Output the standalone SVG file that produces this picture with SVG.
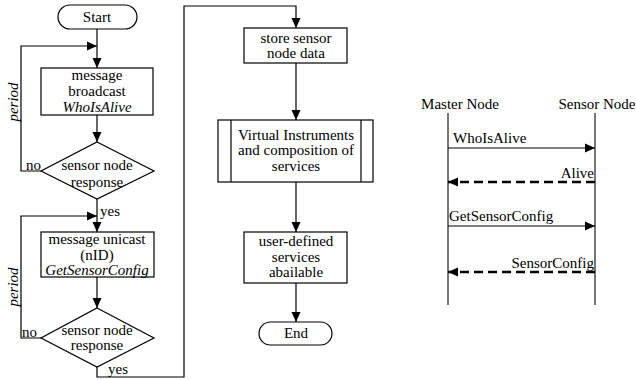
<svg xmlns="http://www.w3.org/2000/svg" width="636" height="380" viewBox="0 0 636 380">
<style>
text{font-family:'Liberation Serif','Times New Roman',serif;font-size:15px;fill:#000}
.c{text-anchor:middle}
.i{font-style:italic}
.s{fill:#fff;stroke:#000;stroke-width:1.2}
.l{fill:none;stroke:#000;stroke-width:1.2}
.ll{fill:none;stroke:#777;stroke-width:2}
.d{fill:none;stroke:#000;stroke-width:2.5;stroke-dasharray:9 5}
</style>
<defs>
<marker id="a" markerUnits="userSpaceOnUse" markerWidth="10" markerHeight="10" refX="10" refY="5" orient="auto"><path d="M0,0.5 L10,5 L0,9.5 z" fill="#000"/></marker>
</defs>
<g id="connectors">
<path class="l" d="M97,29 V68" marker-end="url(#a)"/>
<path class="l" d="M41,171 H21 V46 H97" marker-end="url(#a)"/>
<path class="l" d="M97,115 V142" marker-end="url(#a)"/>
<path class="l" d="M97,199 V232" marker-end="url(#a)"/>
<path class="l" d="M41,338 H21 V216 H97" marker-end="url(#a)"/>
<path class="l" d="M97,277 V308" marker-end="url(#a)"/>
<path class="l" d="M97,367 V377 H184 V6 H296 V28" marker-end="url(#a)"/>
<path class="l" d="M296,63 V120" marker-end="url(#a)"/>
<path class="l" d="M296,182 V232" marker-end="url(#a)"/>
<path class="l" d="M296,283 V322" marker-end="url(#a)"/>
<text x="26" y="170">no</text>
<text x="100" y="216">yes</text>
<text x="22" y="337">no</text>
<text x="108" y="374">yes</text>
<text class="c i" transform="translate(18,102) rotate(-90)">period</text>
<text class="c i" transform="translate(18,287) rotate(-90)">period</text>
</g>
<g id="start"><rect class="s" x="58" y="5" width="79" height="24" rx="12"/><text class="c" x="97" y="22">Start</text></g>
<g id="broadcast"><rect class="s" x="41" y="68" width="112" height="47"/><text class="c" x="97" y="80">message</text><text class="c" x="97" y="96">broadcast</text><text class="c i" x="97" y="112">WhoIsAlive</text></g>
<g id="decision1"><path class="s" d="M97,142 L154,171 L97,199 L41,171 z"/><text class="c" x="97" y="170">sensor node</text><text class="c" x="97" y="187">response</text></g>
<g id="unicast"><rect class="s" x="41" y="232" width="113" height="45"/><text class="c" x="97" y="244">message unicast</text><text class="c" x="97" y="260">(nID)</text><text class="c i" x="97" y="275">GetSensorConfig</text></g>
<g id="decision2"><path class="s" d="M97,308 L154,338 L97,367 L41,338 z"/><text class="c" x="97" y="335">sensor node</text><text class="c" x="97" y="350">response</text></g>
<g id="store"><rect class="s" x="244" y="28" width="103" height="35"/><text class="c" x="296" y="43">store sensor</text><text class="c" x="296" y="58">node data</text></g>
<g id="virtual"><rect class="s" x="218" y="120" width="155" height="62"/><path class="l" d="M231,120 V182 M361,120 V182"/><text class="c" x="296" y="140">Virtual Instruments</text><text class="c" x="296" y="155">and composition of</text><text class="c" x="296" y="171">services</text></g>
<g id="userdef"><rect class="s" x="244" y="232" width="103" height="51"/><text class="c" x="296" y="246">user-defined</text><text class="c" x="296" y="262">services</text><text class="c" x="296" y="277">abailable</text></g>
<g id="end"><rect class="s" x="259" y="322" width="73" height="23" rx="11.5"/><text class="c" x="296" y="338">End</text></g>
<g id="master"><text class="c" x="460" y="109">Master Node</text><path class="ll" d="M448,113 V305"/></g>
<g id="sensor"><text class="c" x="597" y="109">Sensor Node</text><path class="ll" d="M595,113 V305"/></g>
<g id="messages">
<path class="l" d="M448,148 H595" marker-end="url(#a)"/>
<text x="453" y="143">WhoIsAlive</text>
<path class="d" d="M595,182 H448" marker-end="url(#a)"/>
<text x="594" y="178" text-anchor="end">Alive</text>
<path class="l" d="M448,226 H595" marker-end="url(#a)"/>
<text x="449" y="221">GetSensorConfig</text>
<path class="d" d="M595,272 H448" marker-end="url(#a)"/>
<text x="594" y="268" text-anchor="end">SensorConfig</text>
</g>
</svg>
